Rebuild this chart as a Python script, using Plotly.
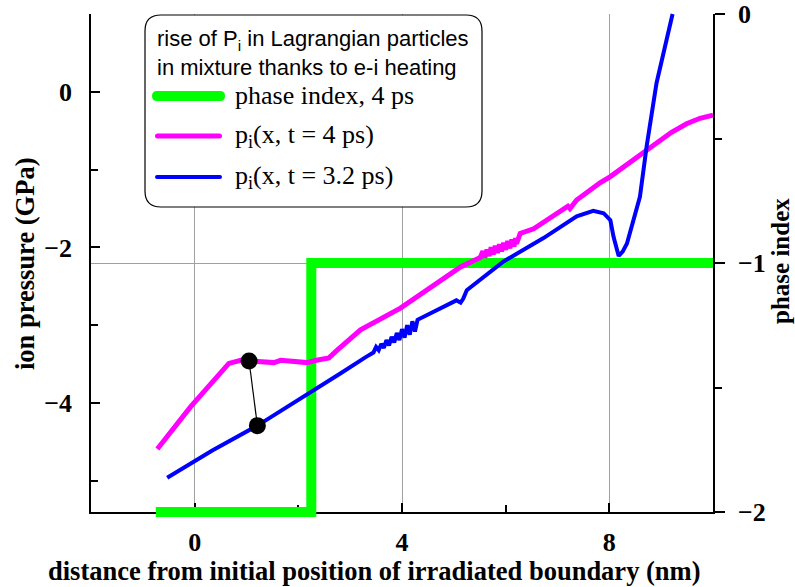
import plotly.graph_objects as go

# ---------------- data ----------------
# phase index at t = 4 ps (right axis)
phase_x = [-0.75, 2.25, 2.25, 10.0]
phase_y = [-2.0, -2.0, -1.0, -1.0]

# ion pressure at t = 4 ps (GPa, left axis)
p4_x = [-0.72, -0.08, 0.66, 0.89, 1.05, 1.30, 1.53, 1.66, 2.00, 2.17, 2.35, 2.49,
        2.59, 2.75, 3.20, 3.97, 4.48, 5.13, 5.51, 5.56, 5.60, 5.64, 5.68, 5.72,
        5.76, 5.80, 5.84, 5.88, 5.92, 5.96, 6.00, 6.04, 6.08, 6.12, 6.16, 6.19,
        6.21, 6.28, 6.54, 7.05, 7.20, 7.24, 7.30, 7.37, 7.82, 8.02, 8.72, 9.20,
        9.49, 9.75, 10.0]
p4_y = [-4.59, -4.05, -3.49, -3.45, -3.46, -3.47, -3.48, -3.45, -3.47, -3.48, -3.45, -3.43,
        -3.42, -3.32, -3.06, -2.78, -2.55, -2.25, -2.13, -2.05, -2.13, -2.03, -2.11, -2.00,
        -2.09, -1.98, -2.07, -1.96, -2.05, -1.94, -2.03, -1.92, -2.01, -1.90, -1.99, -1.88,
        -1.95, -1.82, -1.76, -1.54, -1.47, -1.50, -1.44, -1.39, -1.17, -1.09, -0.75, -0.52,
        -0.41, -0.34, -0.30]

# ion pressure at t = 3.2 ps (GPa, left axis)
p32_x = [-0.53, 0.34, 1.21, 2.25, 2.81, 3.30, 3.45, 3.50, 3.55, 3.60, 3.65, 3.70,
         3.75, 3.80, 3.85, 3.90, 3.95, 4.00, 4.05, 4.10, 4.15, 4.20, 4.25, 4.30,
         4.55, 4.87, 5.05, 5.13, 5.18, 5.25, 5.96, 6.73, 7.37, 7.69, 7.89, 8.02,
         8.08, 8.18, 8.26, 8.34, 8.46, 8.59, 8.72, 8.91, 9.22]
p32_y = [-4.96, -4.61, -4.29, -3.86, -3.62, -3.41, -3.35, -3.28, -3.32, -3.24, -3.29, -3.19,
         -3.26, -3.15, -3.22, -3.10, -3.19, -3.05, -3.16, -3.00, -3.12, -2.95, -3.08, -2.93,
         -2.85, -2.74, -2.68, -2.71, -2.66, -2.55, -2.18, -1.88, -1.60, -1.53, -1.56, -1.65,
         -1.86, -2.11, -2.05, -1.95, -1.65, -1.35, -0.70, 0.11, 1.00]

# one Lagrangian particle at the two instants
pair_x = [1.05, 1.21]
pair_y = [-3.46, -4.29]

X_RANGE = [-2, 10]
P_RANGE = [-5.4, 1.0]
PHASE_RANGE = [-2, 0]

# ---------------- geometry ----------------
W, H = 795, 587
PL, PR, PT, PB = 91, 713, 14, 512      # frame of the plot in pixels
PAD = 10                                 # overhang so thick lines are not cut at the frame
ML, MR, MT, MB = PL - PAD, W - PR - PAD, PT - PAD, H - PB - PAD
PW, PH = W - ML - MR, H - MT - MB
FW, FH = PR - PL, PB - PT


def widen(rng, span):
    per = (rng[1] - rng[0]) / span
    return [rng[0] - PAD * per, rng[1] + PAD * per]


def fx(px):
    return (px - ML) / PW


def fy(py):
    return (H - MB - py) / PH


def capsule(x0, x1, yc, h):
    """Closed path (paper coords) of a horizontal bar with round ends."""
    r = h / 2
    return (f"M {fx(x0 + r)},{fy(yc - r)} L {fx(x1 - r)},{fy(yc - r)} "
            f"Q {fx(x1)},{fy(yc - r)} {fx(x1)},{fy(yc)} "
            f"Q {fx(x1)},{fy(yc + r)} {fx(x1 - r)},{fy(yc + r)} "
            f"L {fx(x0 + r)},{fy(yc + r)} "
            f"Q {fx(x0)},{fy(yc + r)} {fx(x0)},{fy(yc)} "
            f"Q {fx(x0)},{fy(yc - r)} {fx(x0 + r)},{fy(yc - r)} Z")


SERIF = "Liberation Serif"
SANS = "Liberation Sans"
GREEN, MAGENTA, BLUE = "#00ff00", "#ff00ff", "#0000ff"
GRID = "#a0a0a0"

fig = go.Figure()

# empty traces that hold the visible axes
fig.add_trace(go.Scatter(x=[], y=[], xaxis="x", yaxis="y", showlegend=False, hoverinfo="skip"))
fig.add_trace(go.Scatter(x=[], y=[], xaxis="x", yaxis="y2", showlegend=False, hoverinfo="skip"))

# curves, on a scale identical to the visible axes but with a slightly larger clip box
fig.add_trace(go.Scatter(x=phase_x, y=phase_y, xaxis="x2", yaxis="y3", mode="lines",
                         line=dict(color=GREEN, width=10), name="phase index, 4 ps",
                         showlegend=False))
fig.add_trace(go.Scatter(x=p4_x, y=p4_y, xaxis="x2", yaxis="y4", mode="lines",
                         line=dict(color=MAGENTA, width=5), name="p_i(x, t = 4 ps)",
                         showlegend=False))
fig.add_trace(go.Scatter(x=p32_x, y=p32_y, xaxis="x2", yaxis="y4", mode="lines",
                         line=dict(color=BLUE, width=4), name="p_i(x, t = 3.2 ps)",
                         showlegend=False))
fig.add_trace(go.Scatter(x=pair_x, y=pair_y, xaxis="x2", yaxis="y4", mode="lines+markers",
                         line=dict(color="black", width=1.2),
                         marker=dict(color="black", size=17), showlegend=False))

tickfont = dict(family=SERIF, size=26, color="black", weight="bold")

fig.update_layout(
    width=W, height=H,
    margin=dict(l=ML, r=MR, t=MT, b=MB, autoexpand=False),
    paper_bgcolor="white", plot_bgcolor="rgba(0,0,0,0)",
    showlegend=False,
    xaxis=dict(domain=[PAD / PW, 1 - PAD / PW], range=X_RANGE, anchor="y",
               tickmode="linear", tick0=0, dtick=4, ticks="inside", ticklen=9,
               tickwidth=1.5, tickcolor="black",
               minor=dict(tickmode="linear", tick0=0, dtick=2, ticks="inside",
                          ticklen=7, tickwidth=1.5, tickcolor="black", showgrid=False),
               showgrid=True, gridcolor=GRID, gridwidth=1, zeroline=False,
               showline=True, linecolor="black", linewidth=1.5,
               tickfont=tickfont, ticklabelstandoff=6, automargin=False),
    yaxis=dict(domain=[PAD / PH, 1 - PAD / PH], range=P_RANGE, anchor="x",
               tickmode="linear", tick0=0, dtick=2, ticks="inside", ticklen=9,
               tickwidth=1.5, tickcolor="black",
               minor=dict(tickmode="linear", tick0=0, dtick=1, ticks="inside",
                          ticklen=7, tickwidth=1.5, tickcolor="black", showgrid=False),
               showgrid=False, zeroline=False,
               showline=True, linecolor="black", linewidth=1.5,
               tickfont=tickfont, ticklabelstandoff=12, automargin=False),
    yaxis2=dict(overlaying="y", side="right", range=PHASE_RANGE, anchor="x",
                tickmode="linear", tick0=0, dtick=1, ticks="outside", ticklen=10,
                tickwidth=1.5, tickcolor="black",
                minor=dict(tickmode="linear", tick0=0, dtick=0.5, ticks="outside",
                           ticklen=7, tickwidth=1.5, tickcolor="black", showgrid=False),
                showgrid=True, gridcolor=GRID, gridwidth=1, zeroline=False,
                showline=True, linecolor="black", linewidth=1.5,
                tickfont=tickfont, ticklabelstandoff=8, automargin=False),
    xaxis2=dict(domain=[0, 1], range=widen(X_RANGE, FW), anchor="y3", visible=False),
    yaxis3=dict(domain=[0, 1], range=widen(PHASE_RANGE, FH), anchor="x2", visible=False),
    yaxis4=dict(overlaying="y3", range=widen(P_RANGE, FH), anchor="x2", visible=False),
)

# axis titles
title_font = dict(family=SERIF, size=26.5, color="black", weight="bold")
fig.add_annotation(text="distance from initial position of irradiated boundary (nm)",
                   xref="paper", yref="paper", x=fx(374), y=fy(571), showarrow=False,
                   xanchor="center", yanchor="middle", font=title_font)
fig.add_annotation(text="ion pressure (GPa)", xref="paper", yref="paper",
                   x=fx(25), y=fy(264), showarrow=False, textangle=-90,
                   xanchor="center", yanchor="middle", font=title_font)
fig.add_annotation(text="phase index", xref="paper", yref="paper",
                   x=fx(780), y=fy(261), showarrow=False, textangle=-90,
                   xanchor="center", yanchor="middle", font=title_font | dict(size=25))

# legend box with rounded corners
bx0, by0, bx1, by1, r = 145, 15, 482, 207, 16
path = (f"M {fx(bx0 + r)},{fy(by0)} L {fx(bx1 - r)},{fy(by0)} "
        f"Q {fx(bx1)},{fy(by0)} {fx(bx1)},{fy(by0 + r)} "
        f"L {fx(bx1)},{fy(by1 - r)} Q {fx(bx1)},{fy(by1)} {fx(bx1 - r)},{fy(by1)} "
        f"L {fx(bx0 + r)},{fy(by1)} Q {fx(bx0)},{fy(by1)} {fx(bx0)},{fy(by1 - r)} "
        f"L {fx(bx0)},{fy(by0 + r)} Q {fx(bx0)},{fy(by0)} {fx(bx0 + r)},{fy(by0)} Z")
fig.add_shape(type="path", path=path, xref="paper", yref="paper",
              line=dict(color="black", width=1.2), fillcolor="white", layer="above")

legend_font_sans = dict(family=SANS, size=22, color="black")
legend_font_serif = dict(family=SERIF, size=26, color="black")
fig.add_annotation(text="rise of P<sub>i</sub> in Lagrangian particles", xref="paper",
                   yref="paper", x=fx(155), y=fy(40), showarrow=False, xanchor="left",
                   yanchor="middle", font=legend_font_sans)
fig.add_annotation(text="in mixture thanks to e-i heating", xref="paper",
                   yref="paper", x=fx(155), y=fy(68), showarrow=False, xanchor="left",
                   yanchor="middle", font=legend_font_sans)

entries = [
    ("phase index, 4 ps", GREEN, 10, 96, 152, 225),
    ("p<sub>i</sub>(x, t = 4 ps)", MAGENTA, 5, 136, 155, 222),
    ("p<sub>i</sub>(x, t = 3.2 ps)", BLUE, 4, 177, 155, 222),
]
for label, color, h, yy, x0, x1 in entries:
    fig.add_shape(type="path", path=capsule(x0, x1, yy, h), xref="paper", yref="paper",
                  line=dict(width=0), fillcolor=color, layer="above")
    fig.add_annotation(text=label, xref="paper", yref="paper", x=fx(233), y=fy(yy),
                       showarrow=False, xanchor="left", yanchor="middle",
                       font=legend_font_serif)

fig.write_html("out.html")
